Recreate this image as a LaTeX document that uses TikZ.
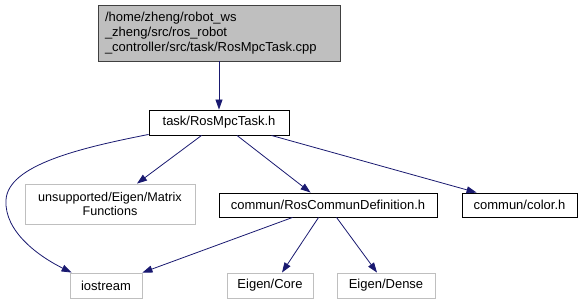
\documentclass[tikz,border=0pt]{standalone}
\usepackage{fontspec}
\setmainfont{Liberation Sans}
\usetikzlibrary{arrows.meta,calc}
\definecolor{edgeblue}{HTML}{191970}
\definecolor{lightframe}{HTML}{BFBFBF}
\definecolor{topfill}{HTML}{BFBFBF}
\begin{document}
\begin{tikzpicture}[x=1pt,y=-1pt,
  every node/.style={font=\fontsize{13}{15}\selectfont, inner sep=0pt},
  filebox/.style={draw=black, line width=0.9pt, fill=white},
  extbox/.style={draw=lightframe, line width=0.9pt, fill=white},
  dep/.style={draw=edgeblue, line width=0.8pt, -{Triangle[length=10pt,width=7pt]}}]
\useasboundingbox (0,0) rectangle (582,305);
% files of the include graph
\node[draw=black!75, line width=0.9pt, fill=topfill, minimum width=242pt, minimum height=56pt,
      align=left, text width=228pt] (src) at (219,33)
  {/home/zheng/robot\_ws\\\_zheng/src/ros\_robot\\\_controller/src/task/RosMpcTask.cpp};
\node[filebox, minimum width=140pt, minimum height=25pt] (task) at (219,122.5) {task/RosMpcTask.h};
\node[extbox, minimum width=170pt, minimum height=40pt, align=center, font=\fontsize{12.6}{13.5}\selectfont] (matfun) at (110,204)
  {unsupported/Eigen/Matrix\\Functions};
\node[filebox, minimum width=218pt, minimum height=24pt] (def) at (328,205) {commun/RosCommunDefinition.h};
\node[filebox, minimum width=115pt, minimum height=24pt] (color) at (519.5,205) {commun/color.h};
\node[extbox, minimum width=72pt, minimum height=25pt] (ios) at (106,285.5) {iostream};
\node[extbox, minimum width=86pt, minimum height=25pt] (core) at (270,285.5) {Eigen/Core};
\node[extbox, minimum width=98pt, minimum height=25pt] (dense) at (386,285.5) {Eigen/Dense};
% include relations
\draw[dep] (src.south) -- (task.north);
\draw[dep] ($(task.south west)+(0,-1)$) .. controls (80,148) and (8,165) .. (6,200)
  .. controls (4,232) and (40,257) .. ($(ios.north west)+(2,0)$);
\draw[dep] ($(task.south west)+(53,0)$) -- ($(matfun.north)+(27,0)$);
\draw[dep] ($(task.south)+(18,0)$) -- ($(def.north west)+(92,0)$);
\draw[dep] ($(task.south east)+(-18,0)$) -- ($(color.north west)+(15,0)$);
\draw[dep] ($(def.south west)+(74,0)$) -- (ios.north east);
\draw[dep] ($(def.south west)+(100,0)$) -- ($(core.north)+(12,0)$);
\draw[dep] ($(def.south west)+(118,0)$) -- ($(dense.north)+(-9,0)$);
\end{tikzpicture}
\end{document}
